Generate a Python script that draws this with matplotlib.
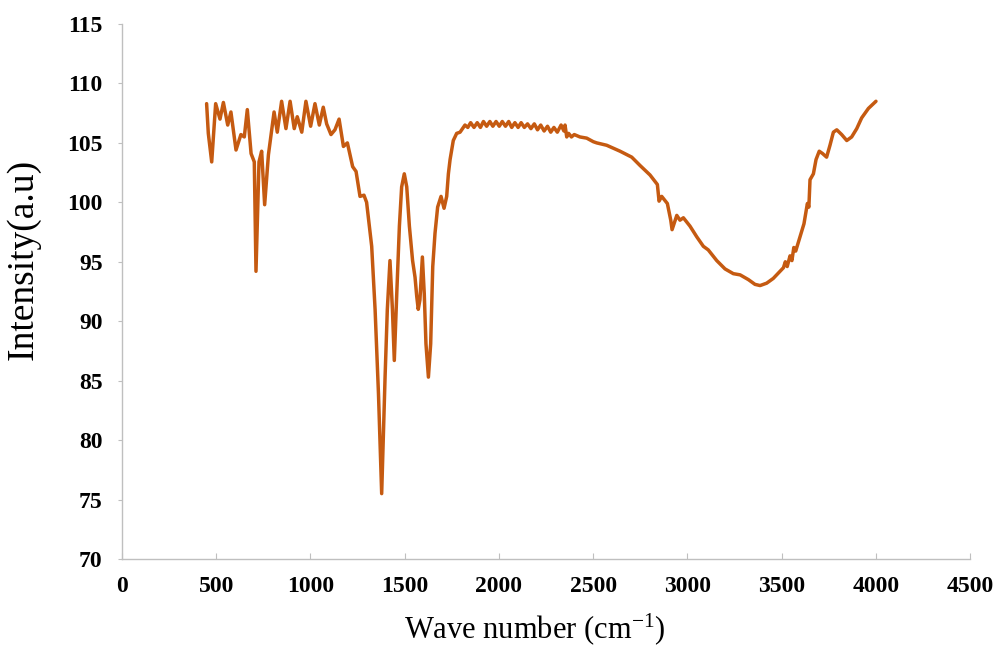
import matplotlib
matplotlib.use("Agg")
import matplotlib.pyplot as plt

wavenumber = [449, 458, 476, 497, 520, 538, 561, 578, 605, 631, 649, 665, 685, 702, 711, 727, 741, 757, 777,
              807, 824, 847, 870, 892, 914, 930, 954, 976, 1001, 1024, 1047, 1068, 1086, 1109, 1130, 1152,
              1175, 1196, 1224, 1242, 1263, 1284, 1298, 1325, 1343, 1361, 1378, 1396, 1408, 1422, 1435,
              1445, 1458, 1472, 1484, 1498, 1511, 1525, 1542, 1555, 1564, 1572, 1581, 1594, 1604, 1613,
              1626, 1638, 1649, 1661, 1675, 1693, 1709, 1723, 1732, 1741, 1758, 1776, 1794, 1820,
              1835, 1850, 1868, 1885, 1902, 1918, 1935, 1952, 1968, 1985, 2002, 2018, 2035, 2052, 2068,
              2085, 2102, 2118, 2135, 2152, 2170, 2188, 2205, 2222, 2240, 2258, 2275, 2292, 2310, 2330,
              2345, 2351, 2360, 2370, 2385, 2400, 2430, 2466, 2501, 2519, 2572, 2643, 2705, 2749, 2802,
              2841, 2850, 2864, 2894, 2912, 2919, 2944, 2961, 2979, 3014, 3050, 3085, 3111, 3156, 3200,
              3244, 3280, 3324, 3359, 3386, 3421, 3456, 3492, 3510, 3520, 3530, 3545, 3555, 3565, 3575,
              3598, 3619, 3637, 3645, 3651, 3669, 3683, 3700, 3718, 3739, 3757, 3775, 3793, 3819, 3846,
              3872, 3899, 3925, 3961, 4001]
intensity = [108.3, 105.8, 103.4, 108.3, 107.0, 108.4, 106.5, 107.6, 104.4, 105.7, 105.5, 107.8, 104.1, 103.4,
             94.2, 103.4, 104.3, 99.8, 104.0,
             107.6, 105.9, 108.5, 106.2, 108.5, 106.2, 107.2, 105.9, 108.5, 106.4, 108.3, 106.5, 108.0,
             106.6, 105.7, 106.1, 107.0, 104.7, 105.0, 103.0, 102.6, 100.5, 100.6, 100.0, 96.3, 91.0,
             83.9, 75.5, 85.3, 91.0, 95.1, 91.0, 86.7, 92.3, 98.0, 101.3, 102.4, 101.3, 98.0, 95.1, 93.7,
             92.1, 91.0, 91.8, 95.4, 92.3, 88.1, 85.3, 88.1, 94.6, 97.4, 99.6, 100.5, 99.5, 100.5, 102.4,
             103.6, 105.2, 105.8, 105.9, 106.5,
             106.3, 106.7, 106.3, 106.7, 106.3, 106.8, 106.4, 106.8, 106.4, 106.8, 106.4, 106.8, 106.4,
             106.8, 106.3, 106.7, 106.3, 106.7, 106.3, 106.6, 106.2, 106.6, 106.1, 106.5, 106.0, 106.4,
             105.9, 106.3, 105.9, 106.5, 106.0, 106.5, 105.5, 105.8, 105.5, 105.7, 105.5, 105.4, 105.1,
             105.0, 104.8, 104.3, 103.8, 103.1, 102.3, 101.5, 100.1, 100.5, 99.9, 98.5, 97.7, 98.9, 98.5,
             98.7, 98.0, 97.1, 96.3, 96.0, 95.1, 94.4, 94.0, 93.9, 93.5, 93.1, 93.0, 93.2, 93.6, 94.2,
             94.5, 95.0, 94.6, 95.5, 95.1, 96.2, 95.9, 97.1, 98.2, 99.9, 99.6, 101.9, 102.4, 103.6,
             104.3, 104.1, 103.8, 104.8, 105.9, 106.1, 105.7, 105.2, 105.5, 106.2, 107.1, 107.9, 108.5]

x_ticks = [0, 500, 1000, 1500, 2000, 2500, 3000, 3500, 4000, 4500]
y_ticks = [70, 75, 80, 85, 90, 95, 100, 105, 110, 115]

plt.rcParams['font.family'] = ['Liberation Serif', 'DejaVu Serif']
plt.rcParams['mathtext.default'] = 'regular'

fig = plt.figure(figsize=(9.98, 6.48), dpi=100)
ax = fig.add_axes([122 / 998, 1 - 559 / 648, 848 / 998, 535 / 648])

ax.plot(wavenumber, intensity, color='#C55A11', lw=2.5, solid_joinstyle='round', solid_capstyle='round')

ax.set_xlim(0, 4500)
ax.set_ylim(70, 115)
ax.set_xticks(x_ticks)
ax.set_yticks(y_ticks)
ax.set_xticklabels([str(v) for v in x_ticks], fontweight='bold', fontsize=17)
ax.set_yticklabels([str(v) for v in y_ticks], fontweight='bold', fontsize=17)

for side in ['top', 'right']:
    ax.spines[side].set_visible(False)
for side in ['left', 'bottom']:
    ax.spines[side].set_color('#BFBFBF')
    ax.spines[side].set_linewidth(1.0)

ax.tick_params(axis='x', direction='in', length=4, color='#BFBFBF', pad=12)
ax.tick_params(axis='y', direction='out', length=3, color='#BFBFBF', pad=11)

ax.set_xlabel('Wave number (cm$^{-1}$)', fontsize=22)
ax.set_ylabel('Intensity(a.u)', fontsize=27)
ax.xaxis.set_label_coords(0.487, -0.098)
ax.yaxis.set_label_coords(-0.096, 0.56)

fig.savefig('out.png', dpi=100)
